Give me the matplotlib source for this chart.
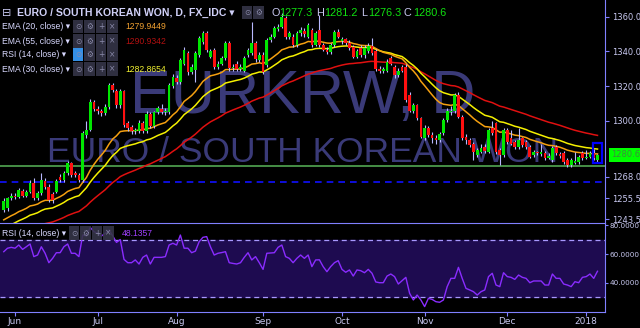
import numpy as np
import matplotlib
matplotlib.use("Agg")
import matplotlib.pyplot as plt
import matplotlib.transforms as mtransforms
from matplotlib.patches import Rectangle

# EUR/KRW daily bars, 29 May 2017 .. 4 Jan 2018
opens = [
    1249.0, 1250.0, 1255.5, 1257.0, 1256.5, 1260.0, 1257.0, 1259.4, 1264.2, 1255.6,
    1258.4, 1265.7, 1262.3, 1258.0, 1259.4, 1268.0, 1266.0, 1270.0, 1275.7, 1270.0,
    1269.0, 1266.0, 1292.0, 1295.0, 1311.0, 1307.0, 1306.0, 1304.4, 1308.0, 1320.7,
    1317.0, 1309.0, 1317.0, 1298.7, 1296.5, 1294.0, 1294.0, 1299.0, 1294.0, 1304.0,
    1297.0, 1305.0, 1307.0, 1305.0, 1305.0, 1320.0, 1325.0, 1322.6, 1333.0, 1339.0,
    1328.4, 1329.4, 1338.0, 1345.6, 1350.4, 1337.0, 1340.8, 1331.0, 1333.0, 1336.0,
    1344.7, 1330.3, 1333.0, 1330.0, 1329.0, 1338.0, 1339.0, 1344.7, 1335.0, 1338.0,
    1332.0, 1346.6, 1348.5, 1353.0, 1354.3, 1359.0, 1348.5, 1348.5, 1343.7, 1350.4,
    1352.0, 1348.5, 1352.3, 1344.0, 1352.3, 1343.7, 1341.0, 1339.9, 1343.7, 1351.4,
    1346.0, 1347.0, 1345.0, 1342.8, 1337.0, 1342.0, 1338.0, 1340.0, 1343.0, 1340.0,
    1330.0, 1329.0, 1329.0, 1336.0, 1331.0, 1326.5, 1331.0, 1331.0, 1315.0, 1305.5,
    1309.0, 1301.6, 1290.0, 1296.0, 1292.0, 1290.5, 1289.0, 1293.0, 1300.6, 1305.0,
    1305.5, 1315.0, 1302.5, 1291.0, 1289.0, 1287.0, 1280.5, 1282.4, 1285.0, 1282.4,
    1296.0, 1298.7, 1283.4, 1280.5, 1294.8, 1290.0, 1288.0, 1285.0, 1290.0, 1288.0,
    1285.0, 1280.5, 1282.0, 1281.0, 1281.4, 1279.0, 1277.6, 1285.0, 1281.0, 1281.4,
    1277.6, 1274.7, 1276.0, 1276.6, 1281.4, 1279.0, 1279.5, 1281.4, 1277.3]
highs = [
    1255.5, 1256.5, 1258.5, 1258.5, 1261.5, 1261.0, 1260.5, 1266.0, 1267.0, 1259.5,
    1270.0, 1267.0, 1263.5, 1259.0, 1266.5, 1269.5, 1271.0, 1277.0, 1276.5, 1271.0,
    1270.0, 1294.0, 1300.0, 1312.5, 1312.0, 1308.5, 1307.0, 1309.5, 1322.0, 1322.0,
    1318.5, 1318.5, 1318.0, 1300.0, 1297.5, 1296.0, 1300.5, 1300.0, 1305.5, 1305.0,
    1306.0, 1308.5, 1309.5, 1307.5, 1322.0, 1327.0, 1326.5, 1336.0, 1342.5, 1340.0,
    1332.5, 1340.0, 1349.0, 1352.0, 1351.5, 1341.5, 1342.0, 1334.5, 1337.5, 1346.0,
    1346.0, 1333.0, 1334.5, 1333.0, 1337.5, 1342.0, 1357.0, 1346.0, 1339.5, 1339.5,
    1348.0, 1350.0, 1354.5, 1356.0, 1362.0, 1360.5, 1352.0, 1350.0, 1351.5, 1354.0,
    1353.5, 1356.5, 1353.5, 1352.0, 1361.0, 1345.0, 1342.5, 1345.0, 1352.5, 1353.0,
    1348.5, 1348.0, 1346.5, 1344.0, 1341.5, 1343.5, 1343.5, 1345.0, 1348.0, 1341.5,
    1331.5, 1331.0, 1335.5, 1337.5, 1332.0, 1330.5, 1332.0, 1332.5, 1316.5, 1310.5,
    1310.0, 1302.5, 1297.5, 1297.0, 1293.5, 1292.0, 1293.5, 1301.5, 1307.5, 1308.5,
    1316.0, 1316.5, 1303.5, 1292.5, 1290.0, 1288.0, 1284.5, 1286.5, 1286.5, 1296.0,
    1300.0, 1299.5, 1284.5, 1296.0, 1296.0, 1295.0, 1289.0, 1296.0, 1291.0, 1289.0,
    1286.0, 1283.5, 1283.0, 1287.0, 1282.5, 1281.5, 1285.5, 1286.0, 1282.0, 1282.5,
    1278.5, 1279.0, 1282.0, 1280.5, 1282.5, 1283.5, 1282.5, 1284.0, 1281.2]
lows = [
    1247.5, 1248.5, 1254.5, 1255.0, 1255.5, 1256.0, 1256.0, 1258.5, 1254.5, 1254.5,
    1257.5, 1261.0, 1253.5, 1253.0, 1258.5, 1265.0, 1265.0, 1269.0, 1268.0, 1268.0,
    1265.0, 1265.0, 1290.5, 1294.0, 1305.5, 1304.0, 1303.0, 1303.5, 1307.0, 1316.5,
    1307.5, 1307.5, 1296.5, 1294.5, 1292.5, 1292.5, 1293.0, 1293.0, 1293.0, 1296.0,
    1296.0, 1304.0, 1304.0, 1303.5, 1304.0, 1319.0, 1321.5, 1321.5, 1332.0, 1326.5,
    1327.0, 1322.5, 1337.0, 1344.5, 1339.5, 1336.0, 1330.0, 1330.0, 1332.0, 1335.0,
    1329.0, 1328.5, 1328.5, 1328.5, 1328.0, 1337.0, 1338.0, 1334.0, 1334.0, 1327.0,
    1331.0, 1345.5, 1347.5, 1352.0, 1353.5, 1347.0, 1347.0, 1342.5, 1342.5, 1349.0,
    1348.5, 1347.5, 1342.5, 1343.0, 1342.5, 1340.0, 1338.5, 1338.5, 1342.5, 1347.5,
    1344.5, 1344.0, 1341.0, 1336.0, 1336.0, 1337.0, 1336.5, 1339.0, 1338.0, 1329.0,
    1327.5, 1327.5, 1328.0, 1332.0, 1325.0, 1325.5, 1328.0, 1311.0, 1305.0, 1304.5,
    1300.5, 1290.0, 1289.0, 1291.0, 1287.5, 1286.5, 1288.0, 1292.0, 1299.5, 1303.5,
    1304.5, 1301.5, 1289.0, 1286.5, 1285.0, 1277.5, 1279.5, 1281.5, 1281.5, 1281.5,
    1292.0, 1281.0, 1274.5, 1279.5, 1287.0, 1286.0, 1284.0, 1284.0, 1285.0, 1284.0,
    1278.5, 1279.5, 1280.5, 1280.0, 1277.5, 1278.0, 1276.5, 1280.5, 1279.0, 1275.5,
    1273.5, 1273.5, 1275.0, 1275.5, 1277.5, 1278.0, 1278.5, 1277.5, 1276.3]
closes = [
    1254.0, 1255.5, 1257.0, 1256.3, 1260.3, 1257.0, 1259.4, 1264.2, 1255.6, 1258.4,
    1266.1, 1262.3, 1254.6, 1254.6, 1265.7, 1266.0, 1270.0, 1275.7, 1269.0, 1269.0,
    1266.0, 1293.0, 1294.8, 1311.0, 1307.0, 1305.5, 1304.4, 1308.0, 1320.7, 1318.0,
    1309.0, 1317.0, 1297.7, 1295.8, 1294.0, 1294.6, 1299.0, 1294.5, 1304.0, 1297.0,
    1305.0, 1307.5, 1305.0, 1306.0, 1320.7, 1325.5, 1322.6, 1335.0, 1340.9, 1328.4,
    1331.3, 1338.9, 1347.6, 1350.4, 1340.8, 1340.0, 1331.3, 1333.0, 1336.0, 1344.7,
    1330.3, 1331.3, 1330.0, 1331.0, 1336.0, 1340.8, 1344.7, 1335.5, 1338.0, 1328.4,
    1346.6, 1348.5, 1353.3, 1354.3, 1360.0, 1348.5, 1350.4, 1343.7, 1350.4, 1352.3,
    1350.0, 1355.2, 1343.7, 1350.4, 1343.7, 1341.0, 1339.9, 1343.7, 1351.4, 1348.5,
    1347.0, 1345.0, 1342.0, 1337.0, 1340.0, 1338.0, 1342.0, 1343.0, 1339.0, 1330.0,
    1329.0, 1330.0, 1334.0, 1333.0, 1326.5, 1329.0, 1329.0, 1312.0, 1306.0, 1309.0,
    1301.6, 1291.0, 1296.0, 1292.0, 1290.0, 1289.0, 1292.5, 1300.6, 1306.0, 1306.0,
    1315.0, 1302.5, 1290.0, 1289.0, 1286.0, 1282.4, 1283.3, 1284.3, 1282.5, 1294.8,
    1293.0, 1282.4, 1280.5, 1294.8, 1288.0, 1287.0, 1285.3, 1289.0, 1286.0, 1285.0,
    1279.5, 1282.4, 1281.5, 1282.0, 1278.6, 1280.0, 1284.3, 1281.4, 1280.0, 1276.6,
    1274.7, 1277.6, 1277.0, 1279.5, 1278.6, 1279.5, 1281.4, 1278.6, 1280.6]
rsi = [
    61.6, 64.0, 64.6, 64.0, 66.2, 63.2, 65.0, 66.9, 58.2, 59.3,
    65.0, 60.5, 54.0, 57.0, 60.9, 60.9, 65.0, 66.9, 60.5, 60.5,
    58.2, 73.1, 72.4, 78.4, 75.4, 74.3, 72.4, 74.3, 76.5, 72.5,
    68.0, 70.0, 56.3, 54.0, 54.0, 55.9, 53.1, 57.7, 59.3, 53.1,
    57.7, 57.7, 57.7, 58.2, 66.2, 67.4, 66.2, 73.1, 64.0, 64.0,
    60.9, 62.0, 68.5, 71.5, 72.0, 65.0, 59.3, 60.5, 61.0, 61.6,
    54.0, 53.5, 53.1, 54.0, 57.7, 60.9, 55.9, 58.2, 54.0, 49.4,
    60.5, 60.7, 60.9, 64.6, 66.2, 58.2, 57.0, 54.0, 57.0, 59.3,
    57.0, 59.3, 51.3, 55.9, 56.0, 51.3, 47.8, 51.3, 54.0, 55.4,
    49.4, 47.4, 49.0, 44.8, 49.0, 48.5, 47.1, 49.4, 46.7, 40.7,
    40.2, 40.2, 44.8, 46.2, 44.4, 39.3, 41.6, 43.9, 32.9, 28.3,
    31.7, 28.3, 23.7, 29.4, 28.7, 27.1, 26.7, 28.3, 37.5, 43.2,
    43.2, 50.8, 43.2, 36.3, 35.2, 34.0, 31.7, 34.0, 35.2, 44.4,
    46.7, 38.6, 37.5, 47.1, 44.4, 43.9, 42.5, 45.5, 43.9, 43.2,
    40.2, 41.4, 41.4, 41.4, 38.6, 38.6, 46.2, 43.2, 43.2, 39.3,
    38.6, 37.5, 40.9, 40.2, 43.9, 44.4, 46.2, 43.2, 48.1]

month_labels = ["Jun", "Jul", "Aug", "Sep", "Oct", "Nov", "Dec", "2018"]
month_bars = [3, 25, 46, 69, 90, 112, 134, 155]
price_ticks = [1243.5, 1255.5, 1268.0, 1300.0, 1320.0, 1340.0, 1360.0]
rsi_ticks = [40, 60, 80]
last_price = 1280.6
support_level = 1274.1
dashed_level = 1264.8
# EMA values just before the first visible bar (estimated from the chart)
ema_seed = {20: 1242.0, 30: 1237.0, 55: 1231.0}


def ema(vals, n, seed):
    k = 2.0 / (n + 1)
    out = []
    prev = seed
    for v in vals:
        prev = prev + k * (v - prev)
        out.append(prev)
    return out


W, H = 640, 328
LAV = '#c8c8f0'
AXC = '#8080ff'
FAM = ['Liberation Sans', 'DejaVu Sans']

fig = plt.figure(figsize=(6.4, 3.28), dpi=100, facecolor='black')
ax = fig.add_axes([0, 1 - 222.7 / H, 605 / W, 222.7 / H], facecolor='black')
ax2 = fig.add_axes([0, 1 - 311.7 / H, 605 / W, 89 / H], facecolor='black')

x = np.arange(len(closes))
o = np.array(opens)
c = np.array(closes)
up = c >= o

# watermark
wm = dict(color='#3a3a78', family='Liberation Sans', ha='center', va='baseline', zorder=0)
ax.text(0.5, 1 - 113 / 222.7, "EURKRW, D", transform=ax.transAxes, fontsize=44, **wm)
ax.text(0.5, 1 - 162 / 222.7, "EURO / SOUTH KOREAN WON", transform=ax.transAxes, fontsize=25.5, **wm)

ax.axhline(support_level, color='#4c9a4c', lw=1.3, zorder=1)
ax.axhline(dashed_level, color='#1010ff', lw=1.2, ls=(0, (4, 3)), zorder=1)

ax.plot(x, ema(closes, 55, ema_seed[55]), color='#e01010', lw=1.1, zorder=2)
ax.plot(x, ema(closes, 30, ema_seed[30]), color='#f5f000', lw=1.1, zorder=2)
ax.plot(x, ema(closes, 20, ema_seed[20]), color='#f5a010', lw=1.1, zorder=2)

ax.vlines(x, lows, highs, color='#b8b8ff', lw=0.8, zorder=3)
body_h = np.maximum(np.abs(c - o), 0.4)
ax.bar(x, body_h, bottom=np.minimum(o, c), width=0.72,
       color=np.where(up, '#00e600', '#ff1010'), zorder=4)

ax.add_patch(Rectangle((156.8, 1275.7), 2.4, 11.5, fill=False, ec='#0000ff', lw=1.6, zorder=5))

ax.set_xlim(-1, 160)
ax.set_ylim(1241.5, 1369.6)
ax.yaxis.tick_right()
ax.set_yticks(price_ticks)
ax.set_yticklabels([f"{t:.1f}" for t in price_ticks])
ax.tick_params(axis='y', colors=AXC, labelcolor=LAV, labelsize=6, length=3, pad=2)
ax.set_xticks([])
for s in ['left', 'top', 'bottom']:
    ax.spines[s].set_visible(False)
ax.spines['right'].set_color(AXC)

blend = mtransforms.blended_transform_factory(ax.transAxes, ax.transData)
ax.text(1.0 + 6 / 605, last_price, f"{last_price:.1f}", transform=blend, ha='left', va='center',
        fontsize=6, color='#3c8c3c', clip_on=False,
        bbox=dict(boxstyle='square,pad=0.3', fc='#00ff00', ec='none'))

# RSI pane
ax2.axhspan(30, 70, color='#1e0b50', zorder=0)
ax2.axhline(70, color='#a898ff', lw=0.9, ls=(0, (4, 3)), zorder=1)
ax2.axhline(30, color='#a898ff', lw=0.9, ls=(0, (4, 3)), zorder=1)
ax2.plot(x, rsi, color='#8a2cff', lw=1.0, zorder=2)
ax2.set_xlim(-1, 160)
ax2.set_ylim(20.2, 81.6)
ax2.yaxis.tick_right()
ax2.set_yticks(rsi_ticks)
ax2.set_yticklabels([f"{t:.4f}" for t in rsi_ticks])
ax2.set_xticks(month_bars)
ax2.set_xticklabels(month_labels)
ax2.tick_params(axis='y', colors=AXC, labelcolor=LAV, labelsize=5.2, length=2, pad=1)
ax2.tick_params(axis='x', colors=AXC, labelcolor=LAV, labelsize=6.5, length=3, pad=1)
ax2.spines['left'].set_visible(False)
for s in ['right', 'top', 'bottom']:
    ax2.spines[s].set_color(AXC)


def T(xp, yp, s, **kw):
    kw.setdefault('family', FAM)
    return fig.text(xp / W, 1 - yp / H, s, va='center', ha='left', **kw)


def icons(xp, yp, glyphs, first_fc=None):
    for k, g in enumerate(glyphs):
        fc = first_fc if (k == 0 and first_fc) else '#353548'
        fig.text((xp + k * 11.5) / W, 1 - yp / H, g, ha='center', va='center',
                 fontsize=5.5, color='#8a8aaa', family='DejaVu Sans',
                 bbox=dict(boxstyle='square,pad=0.28', fc=fc, ec='none', alpha=0.9))


# header
T(2, 12.5, "\u229f", fontsize=8, color=LAV, family='DejaVu Sans')
T(17, 12.5, "EURO / SOUTH KOREAN WON, D, FX_IDC \u25be", fontsize=7.6, color='#d0d0f8', weight='bold')
icons(247, 12.5, ["\u2299", "\u2699"])
GREEN = '#10e010'
for xp, s, col in [(271, "O", LAV), (279, "1277.3", GREEN), (316, "H", LAV), (324, "1281.2", GREEN),
                   (361, "L", LAV), (368, "1276.3", GREEN), (404, "C", LAV), (413, "1280.6", GREEN)]:
    T(xp, 12.5, s, fontsize=7.8, color=col)

legend_rows = [
    (26.5, "EMA (20, close) \u25be", "1279.9449", '#f0a030', None),
    (41.0, "EMA (55, close) \u25be", "1290.9342", '#b01010', None),
    (54.5, "RSI (14, close) \u25be", None, None, '#3aa0ff'),
    (69.0, "EMA (30, close) \u25be", "1282.8654", '#f0f030', None),
]
for yp, name, val, vcol, hl in legend_rows:
    T(2, yp, name, fontsize=6.2, color='#d8d8ff')
    icons(78, yp, ["\u2299", "\u2699", "+", "\u00d7"], first_fc=hl)
    if val:
        T(125, yp, val, fontsize=6.2, color=vcol)

T(2, 233, "RSI (14, close) \u25be", fontsize=6.2, color='#d8d8ff')
icons(74, 233, ["\u2299", "\u2699", "+", "\u00d7"])
T(122, 233, "48.1357", fontsize=6.2, color='#a040ff')

fig.savefig("out.png", dpi=100, facecolor='black')
